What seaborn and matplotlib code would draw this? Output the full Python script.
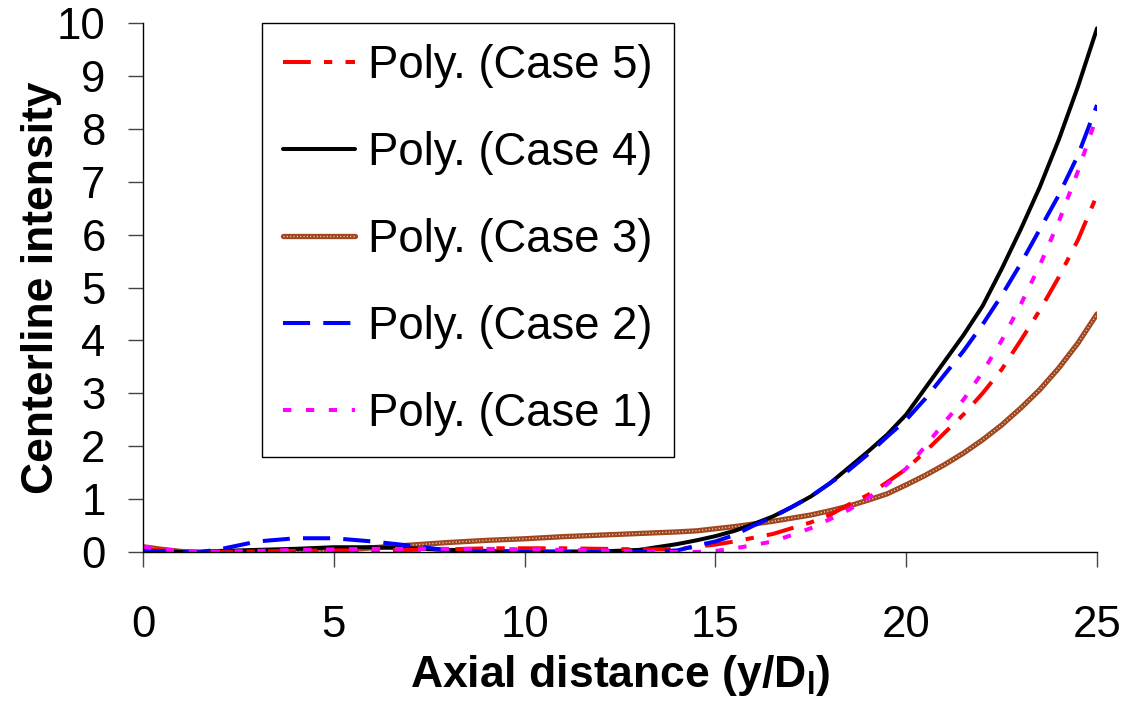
import numpy as np
import pandas as pd
import matplotlib
matplotlib.use("Agg")
import matplotlib.pyplot as plt
from matplotlib.legend_handler import HandlerTuple
import seaborn as sns

# Axial positions (y/D_l)
x_pos = [0, 0.5, 1, 1.5, 2, 3, 4, 5, 6, 7, 8, 9, 10, 11, 12, 13, 14,
         14.5, 15, 15.5, 16, 16.5, 17, 17.5, 18, 18.5, 19, 19.5, 20,
         20.5, 21, 21.5, 22, 22.5, 23, 23.5, 24, 24.5, 25]

# Polynomial fits of centerline intensity for each case
case5 = [0.05, 0.03, 0.0, 0.0, 0.0, 0.01, 0.02, 0.03, 0.03, 0.04, 0.05, 0.07, 0.07, 0.07, 0.06, 0.05, 0.05,
         0.1, 0.14, 0.2, 0.27, 0.34, 0.45, 0.56, 0.7, 0.9, 1.08, 1.32, 1.57,
         1.9, 2.25, 2.6, 3.0, 3.45, 4.0, 4.57, 5.2, 5.9, 6.75]
case4 = [0.05, 0.02, 0.0, 0.0, 0.02, 0.04, 0.06, 0.09, 0.09, 0.07, 0.04, 0.02, 0.01, 0.01, 0.01, 0.04, 0.15,
         0.22, 0.3, 0.4, 0.53, 0.67, 0.85, 1.05, 1.3, 1.6, 1.9, 2.22, 2.6,
         3.1, 3.6, 4.1, 4.65, 5.35, 6.1, 6.9, 7.8, 8.8, 9.9]
case3 = [0.1, 0.05, 0.01, 0.0, 0.0, 0.0, 0.0, 0.02, 0.08, 0.13, 0.18, 0.22, 0.25, 0.29, 0.32, 0.35, 0.38,
         0.4, 0.44, 0.48, 0.53, 0.58, 0.64, 0.7, 0.78, 0.87, 0.98, 1.1, 1.27,
         1.45, 1.65, 1.87, 2.12, 2.4, 2.72, 3.07, 3.48, 3.95, 4.5]
case2 = [0.03, 0.01, 0.0, 0.0, 0.05, 0.2, 0.26, 0.26, 0.2, 0.12, 0.03, 0.0, 0.0, 0.0, 0.0, 0.0, 0.03,
         0.12, 0.2, 0.32, 0.5, 0.66, 0.85, 1.05, 1.3, 1.55, 1.85, 2.18, 2.5,
         2.9, 3.35, 3.8, 4.3, 4.85, 5.45, 6.1, 6.75, 7.5, 8.45]
case1 = [0.1, 0.05, 0.02, 0.0, 0.01, 0.02, 0.04, 0.05, 0.06, 0.06, 0.06, 0.06, 0.05, 0.04, 0.03, 0.01, 0.0,
         0.0, 0.02, 0.07, 0.13, 0.2, 0.32, 0.45, 0.62, 0.8, 1.02, 1.28, 1.58,
         2.0, 2.45, 2.88, 3.4, 4.0, 4.68, 5.42, 6.25, 7.2, 8.25]

labels = ["Poly. (Case 5)", "Poly. (Case 4)", "Poly. (Case 3)",
          "Poly. (Case 2)", "Poly. (Case 1)"]
x_ticks = [0, 5, 10, 15, 20, 25]
y_ticks = list(range(0, 11))

df = pd.DataFrame({"x": x_pos, "c5": case5, "c4": case4, "c3": case3,
                   "c2": case2, "c1": case1})

sns.set_style("ticks")
plt.rcParams["font.family"] = ["Liberation Sans", "DejaVu Sans"]
plt.rcParams["mathtext.fontset"] = "custom"
plt.rcParams["mathtext.rm"] = "Liberation Sans"
plt.rcParams["mathtext.bf"] = "Liberation Sans:bold"
plt.rcParams["lines.scale_dashes"] = False
plt.rcParams["text.color"] = "black"
plt.rcParams["axes.labelcolor"] = "black"
plt.rcParams["xtick.color"] = "black"
plt.rcParams["ytick.color"] = "black"

fig = plt.figure(figsize=(11.29, 7.04), dpi=100)
ax = fig.add_axes([0.1267, 0.2159, 0.845, 0.7514])

lw = 2.9
# Case 3: textured brown line (brown body with light speckles)
sns.lineplot(data=df, x="x", y="c3", ax=ax, color="#A0461E", linewidth=3.8,
             estimator=None, sort=False)
h3a = ax.lines[-1]
sns.lineplot(data=df, x="x", y="c3", ax=ax, color="#EBCDB8", linewidth=1.0,
             linestyle=(0, (0.8, 1.6)), estimator=None, sort=False)
h3b = ax.lines[-1]
sns.lineplot(data=df, x="x", y="c4", ax=ax, color="black", linewidth=lw,
             estimator=None, sort=False)
h4 = ax.lines[-1]
sns.lineplot(data=df, x="x", y="c5", ax=ax, color="#FF0000", linewidth=lw,
             linestyle=(0, (20, 9.5, 6, 9.5)), estimator=None, sort=False)
h5 = ax.lines[-1]
sns.lineplot(data=df, x="x", y="c2", ax=ax, color="#0000FF", linewidth=lw,
             linestyle=(0, (19.5, 9.5)), estimator=None, sort=False)
h2 = ax.lines[-1]
sns.lineplot(data=df, x="x", y="c1", ax=ax, color="#FF00FF", linewidth=lw,
             linestyle=(0, (6, 10.5)), estimator=None, sort=False)
h1 = ax.lines[-1]

ax.set_xlim(0, 25)
ax.set_ylim(0, 10)
ax.set_xticks(x_ticks)
ax.set_yticks(y_ticks)
ax.set_xticklabels([str(t) for t in x_ticks])
ax.set_yticklabels([str(t) for t in y_ticks])

for side in ["top", "right"]:
    ax.spines[side].set_visible(False)
for side in ["left", "bottom"]:
    ax.spines[side].set_color("black")
    ax.spines[side].set_linewidth(1.0)

ax.tick_params(axis="both", direction="out", length=10.5, width=1.0,
               color="#444444", labelsize=31.5, labelcolor="black")
ax.tick_params(axis="y", pad=16.5)
ax.tick_params(axis="x", pad=27.5)

ax.set_xlabel(r"Axial distance (y/D$_\mathbf{l}$)", fontsize=32,
              fontweight="bold", labelpad=5, color="black")
ax.set_ylabel("Centerline intensity", fontsize=32, fontweight="bold",
              labelpad=-4, color="black")

leg = ax.legend([h5, h4, (h3a, h3b), h2, h1], labels,
                handler_map={tuple: HandlerTuple(ndivide=1)},
                loc="upper left", bbox_to_anchor=(0.1247, 1.0),
                borderaxespad=0, fontsize=32.8, handlelength=1.57,
                handletextpad=0.29, borderpad=0.47, labelspacing=0.94,
                frameon=True, fancybox=False, framealpha=1)
leg.get_frame().set_edgecolor("black")
leg.get_frame().set_linewidth(1.0)
for t in leg.get_texts():
    t.set_color("black")

fig.savefig("out.png", dpi=100)
